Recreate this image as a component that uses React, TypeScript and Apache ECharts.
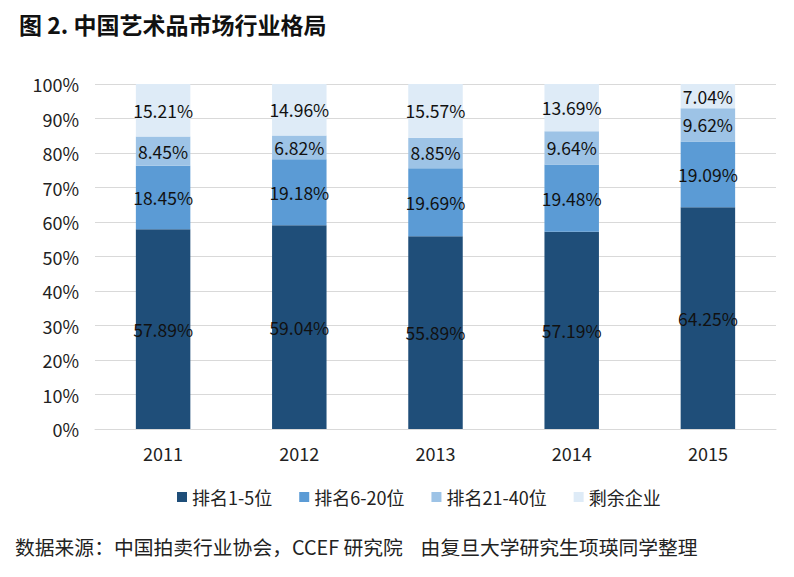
import React, { useEffect, useRef } from "react";
import * as echarts from "echarts";

const years = ["2011", "2012", "2013", "2014", "2015"];
const top1to5 = [57.89, 59.04, 55.89, 57.19, 64.25];
const top6to20 = [18.45, 19.18, 19.69, 19.48, 19.09];
const top21to40 = [8.45, 6.82, 8.85, 9.64, 9.62];
const rest = [15.21, 14.96, 15.57, 13.69, 7.04];
const seriesNames = ["排名1-5位", "排名6-20位", "排名21-40位", "剩余企业"];
const colors = ["#1F4E79", "#5B9BD5", "#9DC3E6", "#DEEBF7"];

const FONT = "'Noto Sans CJK SC', 'Noto Sans', sans-serif";

export default function App() {
  const ref = useRef<HTMLDivElement>(null);
  useEffect(() => {
    if (!ref.current) return;
    const chart = echarts.init(ref.current, undefined, { renderer: "svg" });
    const datas = [top1to5, top6to20, top21to40, rest];
    chart.setOption({
      animation: false,
      backgroundColor: "#ffffff",
      textStyle: { fontFamily: FONT },
      title: {
        text: "图 2. 中国艺术品市场行业格局",
        left: 14,
        top: 7,
        textStyle: { fontSize: 23, fontWeight: "bold", color: "#111", fontFamily: FONT },
      },
      graphic: [
        {
          type: "text",
          left: 15,
          top: 537,
          style: {
            text: "数据来源：中国拍卖行业协会，CCEF 研究院    由复旦大学研究生项瑛同学整理",
            fontSize: 19.8,
            fill: "#222",
            fontFamily: FONT,
          },
        },
      ],
      legend: {
        bottom: 66,
        left: 172,
        itemWidth: 10,
        itemHeight: 10,
        itemGap: 27,
        icon: "rect",
        textStyle: { fontSize: 18, color: "#222", fontFamily: FONT },
        data: seriesNames,
      },
      grid: { left: 95, right: 18, top: 84, bottom: 148 },
      xAxis: {
        type: "category",
        data: years,
        axisLine: { lineStyle: { color: "#D9D9D9" } },
        axisTick: { show: false },
        axisLabel: { fontSize: 18, color: "#222", margin: 15, fontFamily: FONT },
      },
      yAxis: {
        type: "value",
        min: 0,
        max: 100,
        interval: 10,
        axisLine: { show: false },
        axisTick: { show: false },
        splitLine: { lineStyle: { color: "#D9D9D9" } },
        axisLabel: { fontSize: 18, color: "#222", margin: 16, formatter: "{value}%", fontFamily: FONT },
      },
      series: datas.map((d, i) => ({
        name: seriesNames[i],
        type: "bar",
        stack: "total",
        barWidth: "40%",
        itemStyle: { color: colors[i] },
        label: {
          show: true,
          position: "inside",
          fontSize: 17.5,
          color: "#111",
          fontFamily: FONT,
          formatter: (p: any) => p.value.toFixed(2) + "%",
        },
        data: d,
      })),
    });
    return () => chart.dispose();
  }, []);
  return <div ref={ref} style={{ width: 794, height: 577, position: "absolute", left: 0, top: 0 }} />;
}
